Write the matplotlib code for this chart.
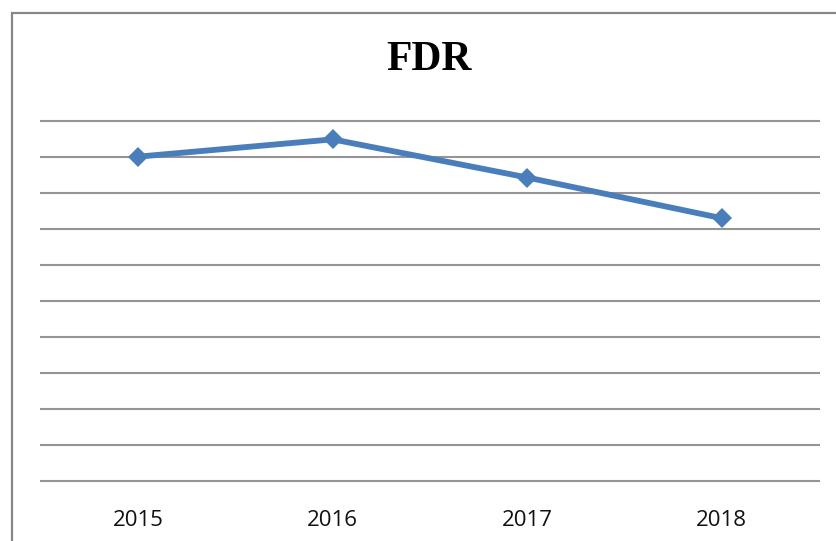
import matplotlib.pyplot as plt
from matplotlib.patches import Rectangle

years = ["2015", "2016", "2017", "2018"]
fdr = [90.1, 94.9, 84.3, 73.0]
grid_steps = list(range(0, 101, 10))

W, H = 837, 541


def main() -> None:
    fig = plt.figure(figsize=(W / 100, H / 100), dpi=100)
    fig.patch.set_facecolor("white")

    # Chart-area border (cut off at right and bottom edges, like the reference).
    fig.add_artist(
        Rectangle(
            (12 / W, -0.1),
            1.2,
            (H - 13) / H + 0.1,
            transform=fig.transFigure,
            fill=False,
            edgecolor="#878787",
            lw=1.6,
        )
    )

    ax = fig.add_axes([41 / W, (H - 481) / H, (819 - 41) / W, 360 / H])
    x = list(range(len(years)))
    ax.set_xlim(-0.5, len(years) - 0.5)
    ax.set_ylim(0, 100)

    for g in grid_steps:
        ax.axhline(g, color="#959595", lw=1.5, zorder=1, clip_on=False)

    ax.plot(
        x,
        fdr,
        color="#4a7ebb",
        lw=4.2,
        marker="D",
        markersize=10.5,
        markeredgewidth=0,
        zorder=3,
        solid_joinstyle="round",
    )

    for s in ax.spines.values():
        s.set_visible(False)
    ax.set_yticks([])
    ax.set_xticks(x)
    ax.set_xticklabels(years, fontsize=16, family="Open Sans", color="#111111")
    ax.tick_params(axis="x", length=0, pad=21)

    fig.text(
        429 / W,
        (H - 70.5) / H,
        "FDR",
        ha="center",
        va="baseline",
        fontsize=30,
        weight="bold",
        family="Liberation Serif",
    )

    fig.savefig("out.png", dpi=100)
    plt.close(fig)


if __name__ == "__main__":
    main()
